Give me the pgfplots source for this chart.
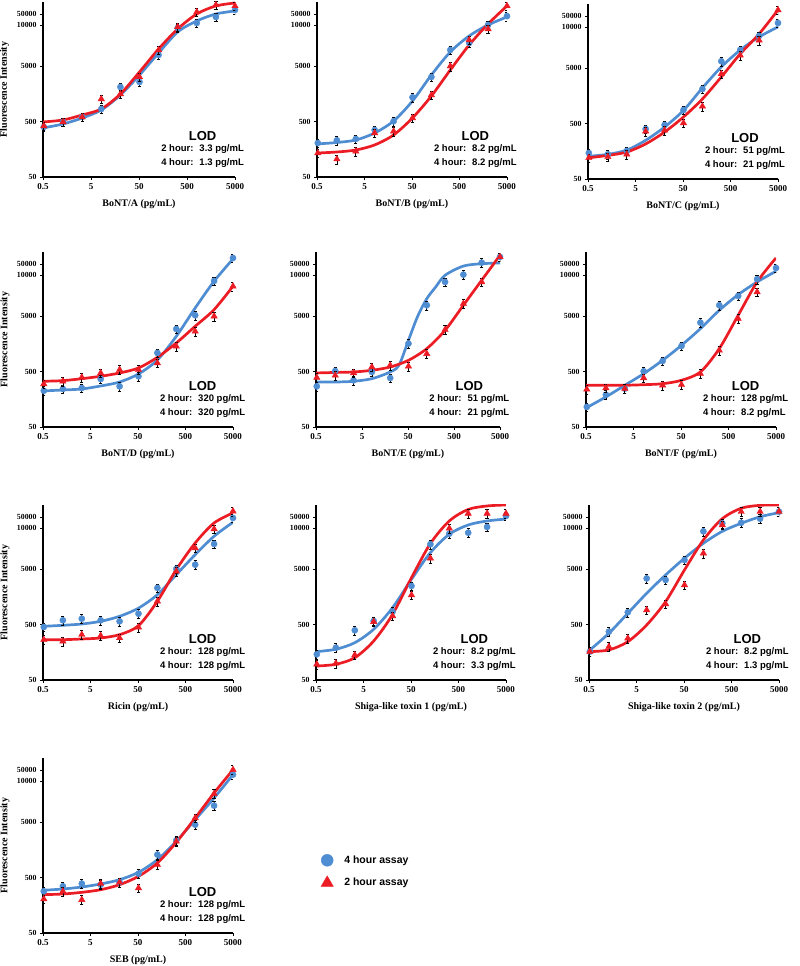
\documentclass[border=0pt]{standalone}
\usepackage{fontspec}
\setmainfont{Liberation Serif}
\newfontfamily\arial{Liberation Sans}
\usepackage{pgfplots}
\usepackage{pgfplotstable}
\pgfplotsset{compat=1.18}
\definecolor{bluec}{RGB}{79,141,211}
\definecolor{redc}{RGB}{236,28,36}

% ---------- data: points (b = 4 hour, r = 2 hour) and fitted curves ----------
\pgfplotstableread{
x b r
0.52 398 415
1.31 490 490
3.28 602 602
8.19 840 1270
20.5 2090 1565
51.2 2575 3170
128 7890 9705
320 24190 25215
800 29770 46970
2000 38170 62800
5000 51060 60250
}\ptsA
\pgfplotstableread{
x b r
0.5 382 490
1.31 451 532
3.28 578 655
8.19 806 840
20.5 1500 1565
51.2 3440 3900
128 8570 10120
320 20490 23200
800 32340 43230
2000 43230 60250
5000 48950 68200
}\crvA
\pgfplotstableread{
x b r
0.52 205 135
1.31 229 105
3.28 242 145
8.19 351 310
20.5 504 333
51.2 1360 578
128 3170 1500
320 9705 4950
800 12980 14700
2000 27400 23200
5000 39600 60250
}\ptsB
\pgfplotstableread{
x b r
0.5 197 135
1.31 209 141
3.28 232 153
8.19 310 189
20.5 510 286
51.2 1170 578
128 3440 1440
320 8935 4235
800 17360 11950
2000 27400 28560
5000 38170 60250
}\crvB
\pgfplotstableread{
x b r
0.52 147 120
1.31 139 125
3.28 160 139
8.19 398 361
20.5 470 377
51.2 875 510
128 2090 1020
320 6600 3900
800 10500 8470
2000 18860 15800
5000 32340 55400
}\ptsC
\pgfplotstableread{
x b r
0.5 128 120
1.31 139 133
3.28 166 153
8.19 249 214
20.5 432 351
51.2 860 655
128 2180 1380
320 5210 3440
800 10500 8935
2000 18100 20490
5000 27400 55400
}\crvC
\pgfplotstableread{
x b r
0.52 225 298
1.31 242 333
3.28 252 393
8.19 366 470
20.5 270 539
51.2 410 539
128 1080 711
320 2915 1420
800 5150 2640
2000 21360 4950
5000 55400 17150
}\ptsD
\pgfplotstableread{
x b r
0.5 223 333
1.31 232 342
3.28 242 371
8.19 274 410
20.5 323 470
51.2 451 578
128 806 900
320 2150 1630
800 6965 3260
2000 21100 6500
5000 53200 17150
}\crvD
\pgfplotstableread{
x b r
0.52 270 388
1.31 510 425
3.28 347 470
8.19 490 602
20.5 382 645
51.2 1590 620
128 7800 1045
320 20490 2830
800 27750 8325
2000 45600 20490
5000 57800 57800
}\ptsE
\pgfplotstableread{
x b r
0.5 323 470
1.31 323 480
3.28 333 490
8.19 371 525
20.5 490 602
32 655 nan
51.2 1825 795
80 4800 nan
128 10230 1290
200 16650 nan
320 27030 2765
800 39600 7800
2000 43600 22000
5000 45060 62000
}\crvE
\pgfplotstableread{
x b r
0.52 115 239
1.31 191 252
3.28 245 245
8.19 504 382
20.5 773 282
51.2 1440 289
128 3800 456
320 7800 1200
800 11470 4470
2000 23000 13530
5000 36600 nan
}\ptsF
\pgfplotstableread{
x b r
0.5 110 282
1.31 174 282
3.28 282 282
8.19 456 289
20.5 795 301
51.2 1480 347
128 2950 490
320 6330 1290
800 12100 5150
2000 20490 20490
5000 32000 55400
}\crvF
\pgfplotstableread{
x b r
0.52 451 266
1.31 595 249
3.28 636 328
8.19 595 314
20.5 570 286
51.2 782 445
128 2280 1310
320 5000 4550
800 5980 11950
2000 14100 26280
5000 41500 54800
}\ptsG
\pgfplotstableread{
x b r
0.5 463 266
1.31 483 266
3.28 510 274
8.19 570 286
20.5 702 328
51.2 985 476
128 1720 1310
320 3950 4860
800 9050 14700
2000 19420 33700
5000 34700 51060
}\crvG
\pgfplotstableread{
x b r
0.52 145 96
1.31 191 100
3.28 393 141
8.19 578 561
20.5 850 711
51.2 2470 1700
128 13950 7800
320 21600 27030
800 22500 49900
2000 28560 49900
5000 45060 49900
}\ptsH
\pgfplotstableread{
x b r
0.5 162 89
1.31 179 96
3.28 235 126
8.19 410 252
20.5 1005 760
51.2 3260 3480
128 9830 14350
320 21100 36600
800 31000 59000
2000 36600 68200
5000 39600 71000
}\crvH
\pgfplotstableread{
x b r
0.52 162 162
1.31 371 199
3.28 830 282
8.19 3380 912
20.5 3170 1170
51.2 7260 2575
128 23800 9600
320 33200 31000
800 34000 53900
2000 40200 53900
5000 53900 53900
}\ptsI
\pgfplotstableread{
x b r
0.5 168 162
1.31 347 174
3.28 795 245
8.19 1825 490
20.5 3900 1290
51.2 7800 4800
128 14500 16650
320 23800 40200
800 33200 62000
2000 43600 70000
5000 51700 71000
}\crvI
\pgfplotstableread{
x b r
0.52 282 205
1.31 347 282
3.28 388 199
8.19 371 388
20.5 410 410
51.2 585 323
128 1290 850
320 2330 2240
800 4470 5900
2000 9830 16150
5000 35600 43600
}\ptsJ
\pgfplotstableread{
x b r
0.5 294 245
1.31 310 252
3.28 337 270
8.19 382 301
20.5 456 371
51.2 620 525
128 1045 912
320 2240 2150
800 5500 5900
2000 13530 16650
5000 35600 43600
}\crvJ

\pgfplotsset{
  myaxis/.style={
    scale only axis, width=190pt, height=175pt,
    xmin=0.5, xmax=5000, ymin=50, ymax=71000,
    axis x line*=bottom, axis y line*=left,
    xtick={0.5,5,50,500,5000}, xticklabels={0.5,5,50,500,5000},
    ytick={50,500,5000,26850,43230}, yticklabels={50,500,5000,10000,50000},
    xminorticks=false, yminorticks=false,
    tick align=outside, major tick length=3pt,
    tick style={black, line width=0.8pt},
    axis line style={line width=1.2pt},
    xticklabel style={font=\fontsize{9}{10}\selectfont\bfseries},
    yticklabel style={font=\fontsize{7.8}{9}\selectfont\bfseries},
    xlabel style={font=\fontsize{10}{12}\selectfont\bfseries, at={(axis description cs:0.5,-0.155)}, anchor=center},
    clip mode=individual,
  },
  ylab/.style={ylabel={Fluorescence Intensity},
    ylabel style={font=\fontsize{10}{12}\selectfont\bfseries, at={(axis description cs:-0.2,0.5)}, anchor=center}},
  bcurve/.style={color=bluec, line width=2.7pt, smooth, no markers, forget plot},
  rcurve/.style={color=redc, line width=2.7pt, smooth, no markers, forget plot},
  bpts/.style={only marks, mark=*, mark size=3.1pt, color=bluec, forget plot,
    error bars/y dir=both, error bars/y fixed relative=0.18,
    error bars/error bar style={black, line width=0.7pt},
    error bars/error mark options={black, mark size=1.6pt, line width=0.7pt, rotate=90}},
  rpts/.style={only marks, mark=triangle*, mark size=3.7pt, color=redc, forget plot,
    error bars/y dir=both, error bars/y fixed relative=0.18,
    error bars/error bar style={black, line width=0.7pt},
    error bars/error mark options={black, mark size=1.6pt, line width=0.7pt, rotate=90}},
}

\newcommand{\lod}[2]{\node[anchor=north west, inner sep=0pt, font=\arial\bfseries\fontsize{9.5}{14}\selectfont] at (rel axis cs:0.615,0.265) {\begin{tabular}{@{}l@{\hspace{6pt}}l@{}}\multicolumn{2}{@{}c@{}}{\fontsize{13}{14}\selectfont LOD}\\[-3pt] 2 hour: & #1 pg/mL\\ 4 hour: & #2 pg/mL\end{tabular}};}

\newcommand{\panel}[8][]{%
\begin{axis}[xmode=log, ymode=log, myaxis, at={(#2pt,#3pt)}, xlabel={#6}, #1]
\addplot[bcurve] table[x=x,y=b]{#5};
\addplot[rcurve] table[x=x,y=r]{#5};
\addplot[bpts] table[x=x,y=b]{#4};
\addplot[rpts] table[x=x,y=r]{#4};
\lod{#7}{#8}
\end{axis}}

\begin{document}
\begin{tikzpicture}
\path[use as bounding box] (0,0) rectangle (800pt,966pt);
\panel[ylab, width=192pt]{43}{789}{\ptsA}{\crvA}{BoNT/A (pg/mL)}{3.3}{1.3}
\panel{317}{789}{\ptsB}{\crvB}{BoNT/B (pg/mL)}{8.2}{8.2}
\panel{588}{787}{\ptsC}{\crvC}{BoNT/C (pg/mL)}{51}{21}
\panel[ylab]{43}{539}{\ptsD}{\crvD}{BoNT/D (pg/mL)}{320}{320}
\panel[width=184pt]{316}{539}{\ptsE}{\crvE}{BoNT/E (pg/mL)}{51}{21}
\panel{586}{539}{\ptsF}{\crvF}{BoNT/F (pg/mL)}{128}{8.2}
\panel[ylab]{43}{286}{\ptsG}{\crvG}{Ricin (pg/mL)}{128}{128}
\panel{316}{286}{\ptsH}{\crvH}{Shiga-like toxin 1 (pg/mL)}{8.2}{3.3}
\panel{589}{286}{\ptsI}{\crvI}{Shiga-like toxin 2 (pg/mL)}{8.2}{1.3}
\begin{axis}[xmode=log, ymode=log, myaxis, ylab, at={(43pt,33pt)}, xlabel={SEB (pg/mL)},
  legend style={at={(1.464,0.351)}, anchor=west, draw=none, fill=none,
    inner sep=0pt, outer sep=0pt, row sep=9pt,
    /tikz/every odd column/.append style={column sep=9pt},
    font=\arial\bfseries\fontsize{10.5}{12}\selectfont},
  legend cell align=left,
  legend image code/.code={\draw[#1] plot coordinates {(6pt,0pt)};}]
\addplot[bcurve] table[x=x,y=b]{\crvJ};
\addplot[rcurve] table[x=x,y=r]{\crvJ};
\addplot[bpts] table[x=x,y=b]{\ptsJ};
\addplot[rpts] table[x=x,y=r]{\ptsJ};
\lod{128}{128}
\addlegendimage{only marks, mark=*, mark size=6pt, color=bluec}
\addlegendentry{4 hour assay}
\addlegendimage{only marks, mark=triangle*, mark size=7pt, color=redc}
\addlegendentry{2 hour assay}
\end{axis}
\end{tikzpicture}
\end{document}
